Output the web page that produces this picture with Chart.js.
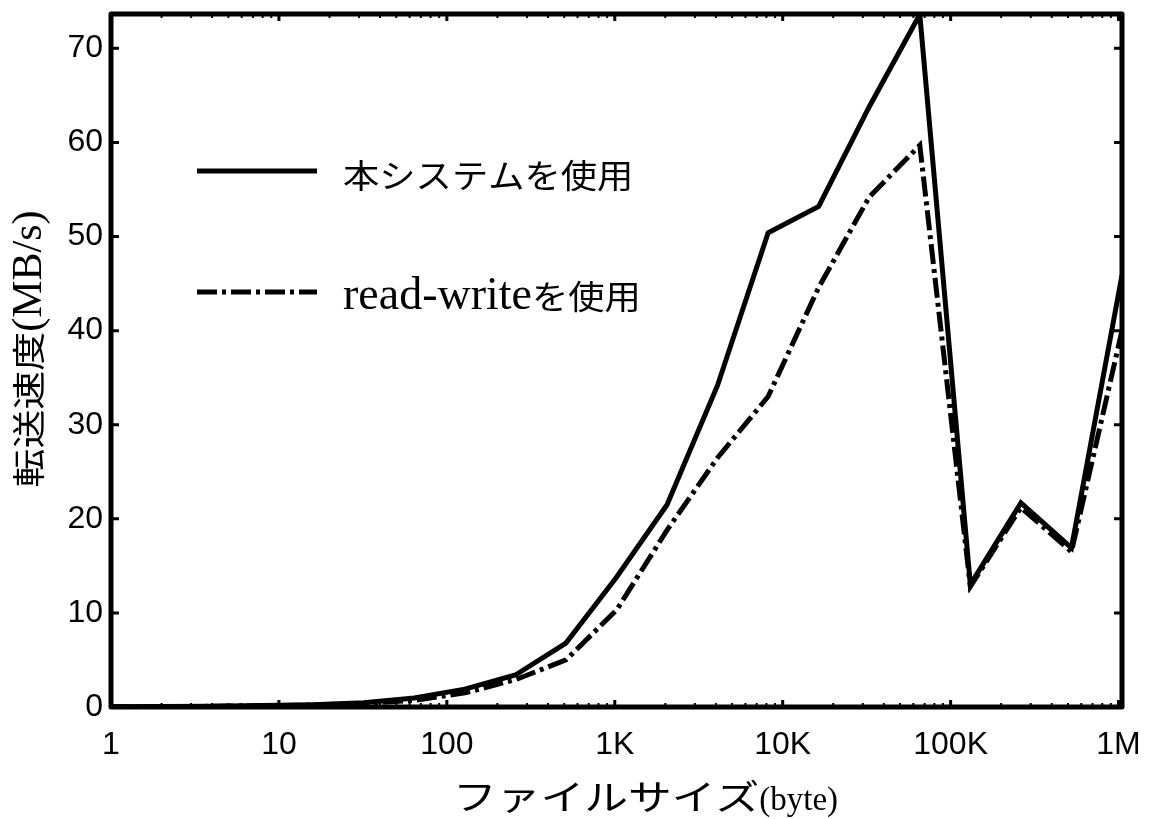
<!DOCTYPE html>
<html lang="ja">
<head>
    <meta charset="UTF-8">
    <title>転送速度</title>
    <script src="https://cdn.jsdelivr.net/npm/chart.js"></script>
    <style>
        body { margin: 0; background: #fff; }
        #wrap { width: 1158px; height: 819px; }
    </style>
</head>
<body>
    <div id="wrap">
        <canvas id="chart" width="1158" height="819"></canvas>
    </div>

    <script>
        // file sizes (bytes), powers of 2
        const fileSizes = [1, 2, 4, 8, 16, 32, 64, 128, 256, 512, 1024, 2048, 4096, 8192,
            16384, 32768, 65536, 131072, 262144, 524288, 1048576];
        // MB/s
        const systemSpeed = [0.02, 0.04, 0.08, 0.15, 0.25, 0.45, 0.95, 1.9, 3.4, 6.8, 13.8, 21.5,
            34.2, 50.4, 53.2, 63.8, 73.6, 13.0, 21.7, 16.9, 45.9];
        const readWriteSpeed = [0.02, 0.04, 0.07, 0.13, 0.22, 0.38, 0.7, 1.5, 2.9, 5.0, 10.3, 18.8,
            26.5, 33.0, 44.6, 54.2, 59.7, 12.8, 21.2, 16.5, 40.0];
        const xTickValues = [1, 10, 100, 1000, 10000, 100000, 1000000];
        const xTickLabels = ['1', '10', '100', '1K', '10K', '100K', '1M'];
        const yTickValues = [0, 10, 20, 30, 40, 50, 60, 70];
        const seriesNames = ['本システムを使用', 'read-writeを使用'];
        const xTitle = 'ファイルサイズ(byte)';
        const yTitle = '転送速度(MB/s)';

        const cjkFont = "'Noto Sans CJK JP', sans-serif";
        const serifFont = "'Liberation Serif', 'Times New Roman', serif";
        const sansFont = "'Liberation Sans', Arial, sans-serif";

        const toPoints = (vals) => fileSizes.map((s, i) => ({ x: s, y: vals[i] }));

        // split a string into CJK / latin runs so each gets its own font
        function splitRuns(str) {
            const runs = [];
            for (const ch of str) {
                const cjk = /[\u3000-\u9fff\uff00-\uffef]/.test(ch);
                const last = runs[runs.length - 1];
                if (last && last.cjk === cjk) last.text += ch;
                else runs.push({ text: ch, cjk });
            }
            return runs;
        }

        // draw mixed text starting at (0,0) in current transform
        function drawRuns(ctx, str, opt) {
            const runs = splitRuns(str);
            const parts = runs.map(r => {
                ctx.font = r.cjk ? opt.cjkSize + 'px ' + cjkFont : opt.latinSize + 'px ' + serifFont;
                const sx = r.cjk ? opt.cjkScale : 1;
                return { r, font: ctx.font, sx, w: ctx.measureText(r.text).width * sx };
            });
            const total = parts.reduce((s, p) => s + p.w, 0);
            let x = opt.align === 'center' ? -total / 2 : 0;
            ctx.textBaseline = 'alphabetic';
            ctx.textAlign = 'left';
            parts.forEach(p => {
                ctx.save();
                ctx.font = p.font;
                ctx.translate(x, opt.baseline);
                ctx.scale(p.sx, 1);
                ctx.fillText(p.r.text, 0, 0);
                ctx.restore();
                x += p.w;
            });
        }

        // frame, inward ticks, legend and axis titles
        const framePlugin = {
            id: 'frame',
            afterDatasetsDraw(chart) {
                const { ctx, chartArea: a, scales } = chart;
                const xs = scales.x, ys = scales.y;
                ctx.save();
                ctx.strokeStyle = '#000';
                ctx.fillStyle = '#000';
                ctx.lineCap = 'butt';

                // y ticks, left + right
                ctx.lineWidth = 3;
                yTickValues.forEach(v => {
                    if (v === 0) return;
                    const py = ys.getPixelForValue(v);
                    ctx.beginPath();
                    ctx.moveTo(a.left, py); ctx.lineTo(a.left + 8, py);
                    ctx.moveTo(a.right, py); ctx.lineTo(a.right - 8, py);
                    ctx.stroke();
                });
                // x ticks, bottom + top (major and minor)
                for (let d = 1; d <= 1000000; d *= 10) {
                    for (let m = 1; m <= 9; m++) {
                        const v = d * m;
                        if (v > xs.max || v === 1) continue;
                        const px = xs.getPixelForValue(v);
                        const len = m === 1 ? 7 : 4;
                        ctx.lineWidth = m === 1 ? 3 : 2;
                        ctx.beginPath();
                        ctx.moveTo(px, a.bottom); ctx.lineTo(px, a.bottom - len);
                        ctx.moveTo(px, a.top); ctx.lineTo(px, a.top + len);
                        ctx.stroke();
                    }
                }

                // frame
                ctx.lineWidth = 5;
                ctx.lineJoin = 'round';
                ctx.strokeRect(a.left, a.top, a.right - a.left, a.bottom - a.top);

                // legend
                const rows = [171, 292];
                chart.data.datasets.forEach((ds, i) => {
                    const y = rows[i];
                    ctx.lineWidth = ds.borderWidth;
                    ctx.setLineDash(ds.borderDash || []);
                    ctx.beginPath();
                    ctx.moveTo(197, y); ctx.lineTo(317, y);
                    ctx.stroke();
                    ctx.setLineDash([]);
                    ctx.save();
                    ctx.translate(343, y);
                    drawRuns(ctx, ds.label, { cjkSize: 33, cjkScale: 1.1, latinSize: 46, baseline: 17, align: 'left' });
                    ctx.restore();
                });

                // x title
                ctx.save();
                ctx.translate((a.left + a.right) / 2 + 29, 796);
                drawRuns(ctx, xTitle, { cjkSize: 35, cjkScale: 1.25, latinSize: 33, baseline: 14, align: 'center' });
                ctx.restore();

                // y title
                ctx.save();
                ctx.translate(27, 349);
                ctx.rotate(-Math.PI / 2);
                drawRuns(ctx, yTitle, { cjkSize: 33, cjkScale: 1.18, latinSize: 42, baseline: 14, align: 'center' });
                ctx.restore();

                ctx.restore();
            }
        };

        const ctx = document.getElementById('chart').getContext('2d');
        new Chart(ctx, {
            type: 'line',
            data: {
                datasets: [
                    {
                        label: seriesNames[0],
                        data: toPoints(systemSpeed),
                        borderColor: '#000',
                        borderWidth: 5,
                        pointRadius: 0,
                        fill: false
                    },
                    {
                        label: seriesNames[1],
                        data: toPoints(readWriteSpeed),
                        borderColor: '#000',
                        borderWidth: 5,
                        borderDash: [20, 5, 4, 5],
                        pointRadius: 0,
                        fill: false
                    }
                ]
            },
            options: {
                responsive: false,
                animation: false,
                layout: { padding: { top: 14, right: 36, left: 0, bottom: 0 } },
                plugins: {
                    legend: { display: false },
                    tooltip: { enabled: false }
                },
                scales: {
                    x: {
                        type: 'logarithmic',
                        min: 1,
                        max: 1048576,
                        grid: { display: false, drawTicks: false },
                        border: { display: false },
                        afterBuildTicks: (scale) => {
                            scale.ticks = xTickValues.map(v => ({ value: v }));
                        },
                        afterFit: (scale) => {
                            scale.height = 112;
                            scale.paddingLeft = 0;
                            scale.paddingRight = 0;
                        },
                        ticks: {
                            autoSkip: false,
                            maxRotation: 0,
                            padding: 19,
                            color: '#000',
                            font: { family: sansFont, size: 32 },
                            callback: (v) => xTickLabels[xTickValues.indexOf(v)]
                        }
                    },
                    y: {
                        min: 0,
                        max: 73.65,
                        grid: { display: false, drawTicks: false },
                        border: { display: false },
                        afterBuildTicks: (scale) => {
                            scale.ticks = yTickValues.map(v => ({ value: v }));
                        },
                        afterFit: (scale) => {
                            scale.width = 111;
                            scale.paddingTop = 0;
                            scale.paddingBottom = 0;
                        },
                        ticks: {
                            padding: 8,
                            color: '#000',
                            font: { family: sansFont, size: 32 }
                        }
                    }
                }
            },
            plugins: [framePlugin]
        });
    </script>
</body>
</html>
